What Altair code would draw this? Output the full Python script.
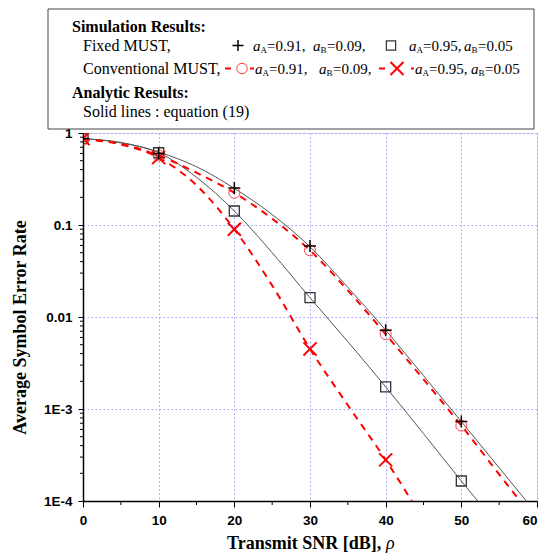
import altair as alt
import pandas as pd

# ---------------- data ----------------
snr_curve = [0, 5, 10, 15, 20, 25, 30, 35, 40, 45, 50, 55, 60]
fixed_091_curve = [0.87, 0.79, 0.62, 0.43, 0.25, 0.13, 0.058, 0.021, 0.0072, 0.0023, 0.00073, 0.00023, 0.000072]
fixed_095_curve = [0.87, 0.78, 0.61, 0.33, 0.142, 0.05, 0.0162, 0.0054, 0.00174, 0.00054, 0.000165, 0.000052, 0.000016]
conv_091_curve = [0.86, 0.76, 0.57, 0.37, 0.224, 0.117, 0.053, 0.0195, 0.0065, 0.0021, 0.00066, 0.000195, 0.000058]
conv_095_curve = [0.86, 0.75, 0.54, 0.27, 0.09, 0.022, 0.0045, 0.0011, 0.00028, 0.000062]

snr_sim = [0, 10, 20, 30, 40, 50]
fixed_091_sim = [0.87, 0.60, 0.252, 0.059, 0.0072, 0.00073]
fixed_095_sim = [0.87, 0.61, 0.142, 0.0162, 0.00174, 0.000165]
conv_091_sim = [0.86, 0.57, 0.224, 0.053, 0.0065, 0.00066]
conv_095_sim = [0.87, 0.54, 0.09, 0.0045, 0.00028]

x_ticks = [0, 10, 20, 30, 40, 50, 60]
x_minor = [5, 15, 25, 35, 45, 55]
y_ticks = [1, 0.1, 0.01, 0.001, 0.0001]
y_minor = [m * d for d in [0.0001, 0.001, 0.01, 0.1] for m in range(2, 10)]

W, H = 454, 368
SERIF = "Liberation Serif"
SANS = "Liberation Sans"
GRID = "#9c9cff"


def df(xs, ys):
    return pd.DataFrame({"snr": xs[:len(ys)], "ser": ys})


xscale = alt.Scale(domain=[0, 60], nice=False, zero=False)
yscale = alt.Scale(type="log", domain=[0.0001, 1], nice=False)

x_axis = alt.Axis(values=x_ticks, title=None, grid=True, gridColor=GRID, gridDash=[1.5, 2.5],
                  gridWidth=1, tickSize=6, tickColor="black", tickWidth=1, labelFlush=False,
                  labelAlign={"condition": {"test": "datum.value == 60", "value": "right"},
                              "value": "center"},
                  domainColor="black", domainWidth=1.5, labelFont=SANS, labelFontWeight="bold",
                  labelFontSize=13.5, labelColor="black", labelPadding=6)
y_axis = alt.Axis(values=y_ticks, title="Average Symbol Error Rate", grid=True, gridColor=GRID,
                  gridDash=[1.5, 2.5], gridWidth=1, tickSize=5, tickColor="black", tickWidth=1,
                  labelFlush=False,
                  domainColor="black", domainWidth=1.5, labelFont=SANS, labelFontWeight="bold",
                  labelFontSize=13.5, labelColor="black", labelPadding=6,
                  labelExpr="datum.value >= 0.01 ? toString(datum.value) : '1E' + round(log(datum.value)/LN10)",
                  titleFont=SERIF, titleFontSize=18, titleFontWeight="bold", titleColor="black",
                  titlePadding=14, titleY=194)


def X():
    return alt.X("snr:Q", scale=xscale, axis=x_axis)


def Y():
    return alt.Y("ser:Q", scale=yscale, axis=y_axis)


def solid(xs, ys):
    return alt.Chart(df(xs, ys)).mark_line(color="#555555", strokeWidth=1, clip=True,
                                           interpolate="monotone").encode(x=X(), y=Y())


def dashed(xs, ys):
    return alt.Chart(df(xs, ys)).mark_line(color="#ff0000", strokeWidth=2, strokeDash=[7, 6],
                                           clip=True, interpolate="monotone").encode(x=X(), y=Y())


PLUS = "M-1,0L1,0M0,-1L0,1"
CROSS = "M-1,-1L1,1M-1,1L1,-1"


def points(xs, ys, shape, size, color, width):
    return alt.Chart(df(xs, ys)).mark_point(shape=shape, size=size, filled=False, color=color,
                                            strokeWidth=width, opacity=1, clip=True).encode(x=X(), y=Y())


layers = [
    solid(snr_curve, fixed_091_curve),
    solid(snr_curve, fixed_095_curve),
    dashed(snr_curve, conv_091_curve),
    dashed(snr_curve, conv_095_curve),
    points(snr_sim, fixed_095_sim, "square", 100, "#333333", 1.3),
    points(snr_sim, conv_091_sim, "circle", 121, "#ff4040", 1),
    points(snr_sim, conv_095_sim, CROSS, 170, "#ff0000", 2),
    points(snr_sim, fixed_091_sim, PLUS, 144, "#000000", 1.5),
]

# minor ticks
layers.append(alt.Chart(pd.DataFrame({"ser": y_minor})).mark_rule(color="black", strokeWidth=1)
              .encode(y=Y(), x=alt.value(-3), x2=alt.value(0)))
layers.append(alt.Chart(pd.DataFrame({"snr": x_minor})).mark_rule(color="black", strokeWidth=1)
              .encode(x=X(), y=alt.value(H), y2=alt.value(H + 4)))

one = pd.DataFrame({"d": [0]})


def txt(s, x, y, size=16, weight="normal", style="normal", color="black", font=SERIF):
    return alt.Chart(one).mark_text(text=s, align="left", baseline="alphabetic", font=font,
                                    fontSize=size, fontWeight=weight, fontStyle=style,
                                    color=color).encode(x=alt.value(x), y=alt.value(y))


def sym(shape, x, y, size, color, width):
    return alt.Chart(one).mark_point(shape=shape, size=size, filled=False, color=color,
                                     strokeWidth=width, opacity=1).encode(x=alt.value(x), y=alt.value(y))


def seg(x1, x2, y):
    return alt.Chart(one).mark_rule(color="#ff0000", strokeWidth=2).encode(
        x=alt.value(x1), x2=alt.value(x2), y=alt.value(y))


# legend box
layers.append(alt.Chart(one).mark_rect(fill="white", stroke="#444444", strokeWidth=1).encode(
    x=alt.value(-35), x2=alt.value(451), y=alt.value(-124), y2=alt.value(-4)))

r0, r1, r2, r3, r4 = -101.5, -82.5, -59.5, -35.5, -16.5
c1, c2 = r1 - 5, r2 - 5

layers += [
    txt("Simulation Results:", -11, r0, weight="bold"),
    txt("Fixed MUST,", 0, r1),
    txt("Conventional MUST,", 0, r2),
    txt("Analytic Results:", -11, r3, weight="bold"),
    txt("Solid lines : equation (19)", 0, r4),
    sym(PLUS, 155, c1, 121, "#000000", 1.5),
    sym("square", 308, c1, 86, "#333333", 1.2),
    seg(142, 148, c2), sym("circle", 159, c2, 110, "#ff4040", 1), seg(167, 171, c2),
    seg(296, 302, c2), sym(CROSS, 314, c2, 170, "#ff0000", 2), seg(328, 331, c2),
]


def group(xa, y, sub1, val1, xb, sub2, val2):
    return [
        txt("a", xa, y, size=15, style="italic"), txt(sub1, xa + 7.5, y + 2, size=9),
        txt(val1, xa + 14, y, size=15),
        txt("a", xb, y, size=15, style="italic"), txt(sub2, xb + 7.5, y + 2, size=9),
        txt(val2, xb + 14, y, size=15),
    ]


layers += group(170, r1, "A", "=0.91,", 230, "B", "=0.09,")
layers += group(326, r1, "A", "=0.95,", 381, "B", "=0.05")
layers += group(172, r2, "A", "=0.91,", 236, "B", "=0.09,")
layers += group(332, r2, "A", "=0.95,", 388, "B", "=0.05")

# x-axis title
layers.append(txt("Transmit SNR [dB],", 144, 416, size=18, weight="bold"))
layers.append(txt("ρ", 303, 416, size=18, style="italic"))

chart = alt.layer(*layers).properties(
    width=W, height=H, padding={"left": 3, "top": 0, "right": 0, "bottom": 0}
).configure_view(stroke="#555555", strokeWidth=1).configure(background="white")

chart.save("out.html", embed_options={"renderer": "svg", "actions": False})
